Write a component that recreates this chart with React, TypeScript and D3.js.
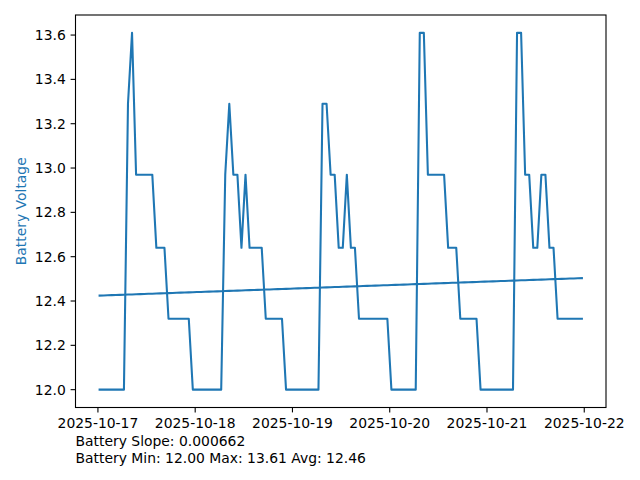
import React from "react";
import * as d3 from "d3";

// Hourly battery readings starting 2025-10-17 ~00:25
const startTime = "2025-10-17T00:25:00";
const voltages: number[] = [
  // day 1
  12.0, 12.0, 12.0, 12.0, 12.0, 12.0, 12.0, 13.29, 13.61, 12.97,
  12.97, 12.97, 12.97, 12.97, 12.64, 12.64, 12.64, 12.32, 12.32, 12.32,
  12.32, 12.32, 12.32, 12.0, 12.0, 12.0, 12.0, 12.0, 12.0, 12.0,
  12.0, 12.97, 13.29, 12.97, 12.97, 12.64, 12.97, 12.64, 12.64, 12.64,
  12.64, 12.32, 12.32, 12.32, 12.32, 12.32, 12.0, 12.0, 12.0, 12.0,
  12.0, 12.0, 12.0, 12.0, 12.0, 13.29, 13.29, 12.97, 12.97, 12.64,
  12.64, 12.97, 12.64, 12.64, 12.32, 12.32, 12.32, 12.32, 12.32, 12.32,
  12.32, 12.32, 12.0, 12.0, 12.0, 12.0, 12.0, 12.0, 12.0, 13.61,
  13.61, 12.97, 12.97, 12.97, 12.97, 12.97, 12.64, 12.64, 12.64, 12.32,
  12.32, 12.32, 12.32, 12.32, 12.0, 12.0, 12.0, 12.0, 12.0, 12.0,
  12.0, 12.0, 12.0, 13.61, 13.61, 12.97, 12.97, 12.64, 12.64, 12.97,
  12.97, 12.64, 12.64, 12.32, 12.32, 12.32, 12.32, 12.32, 12.32, 12.32,
];
const xTickLabels = ["2025-10-17", "2025-10-18", "2025-10-19", "2025-10-20", "2025-10-21", "2025-10-22"];
const yTicks = [12.0, 12.2, 12.4, 12.6, 12.8, 13.0, 13.2, 13.4, 13.6];
const yLabel = "Battery Voltage";
const footerLines = ["Battery Slope: 0.000662", "Battery Min: 12.00 Max: 13.61 Avg: 12.46"];

const W = 640, H = 480;
const left = 75.5, right = 606, top = 15, bottom = 407.5;
const BLUE = "#1f77b4";
const FONT = "DejaVu Sans, sans-serif";
const FS = 13.9;

export default function App() {
  const t0 = new Date(startTime).getTime();
  const times = voltages.map((_, i) => new Date(t0 + i * 3600 * 1000));
  const [tMin, tMax] = d3.extent(times) as [Date, Date];
  const span = tMax.getTime() - tMin.getTime();
  const x = d3.scaleTime()
    .domain([new Date(tMin.getTime() - 0.05 * span), new Date(tMax.getTime() + 0.05 * span)])
    .range([left, right]);
  const vMin = d3.min(voltages)!, vMax = d3.max(voltages)!;
  const vr = vMax - vMin;
  const y = d3.scaleLinear().domain([vMin - 0.05 * vr, vMax + 0.05 * vr]).range([bottom, top]);

  // linear regression over index
  const n = voltages.length;
  const idx = voltages.map((_, i) => i);
  const mx = d3.mean(idx)!, my = d3.mean(voltages)!;
  const slope = d3.sum(idx, (i) => (i - mx) * (voltages[i] - my)) / d3.sum(idx, (i) => (i - mx) ** 2);
  const intercept = my - slope * mx;
  const trend = idx.map((i) => ({ t: times[i], v: intercept + slope * i }));

  const line = d3.line<{ t: Date; v: number }>().x((d) => x(d.t)).y((d) => y(d.v));
  const pts = voltages.map((v, i) => ({ t: times[i], v }));

  const xTicks = xTickLabels.map((s) => ({ s, t: new Date(s + "T00:00:00") }));

  return (
    <svg width={W} height={H} style={{ position: "absolute", left: 0, top: 0, background: "#fff" }} fontFamily={FONT}>
      <rect x={0} y={0} width={W} height={H} fill="#fff" />
      <g clipPath="url(#clip)">
        <path d={line(pts)!} fill="none" stroke={BLUE} strokeWidth={2.08} strokeLinejoin="round" strokeLinecap="square" />
        <path d={line(trend)!} fill="none" stroke={BLUE} strokeWidth={2.08} strokeLinecap="square" />
      </g>
      <defs>
        <clipPath id="clip">
          <rect x={left} y={top} width={right - left} height={bottom - top} />
        </clipPath>
      </defs>
      <rect x={left} y={top} width={right - left} height={bottom - top} fill="none" stroke="#000" strokeWidth={1.1} />
      {yTicks.map((v) => (
        <g key={v}>
          <line x1={left - 4.9} x2={left} y1={y(v)} y2={y(v)} stroke="#000" strokeWidth={1.1} />
          <text x={left - 9.7} y={y(v) + 5} textAnchor="end" fontSize={FS} fill="#000">{v.toFixed(1)}</text>
        </g>
      ))}
      {xTicks.map((d) => (
        <g key={d.s}>
          <line x1={x(d.t)} x2={x(d.t)} y1={bottom} y2={bottom + 4.9} stroke="#000" strokeWidth={1.1} />
          <text x={x(d.t)} y={bottom + 20.5} textAnchor="middle" fontSize={FS} fill="#000">{d.s}</text>
        </g>
      ))}
      <text transform={`translate(26,${(top + bottom) / 2}) rotate(-90)`} textAnchor="middle" fontSize={FS} fill={BLUE}>{yLabel}</text>
      {footerLines.map((s, i) => (
        <text key={i} x={left} y={446 + i * 16.7} fontSize={FS} fill="#000">{s}</text>
      ))}
    </svg>
  );
}
